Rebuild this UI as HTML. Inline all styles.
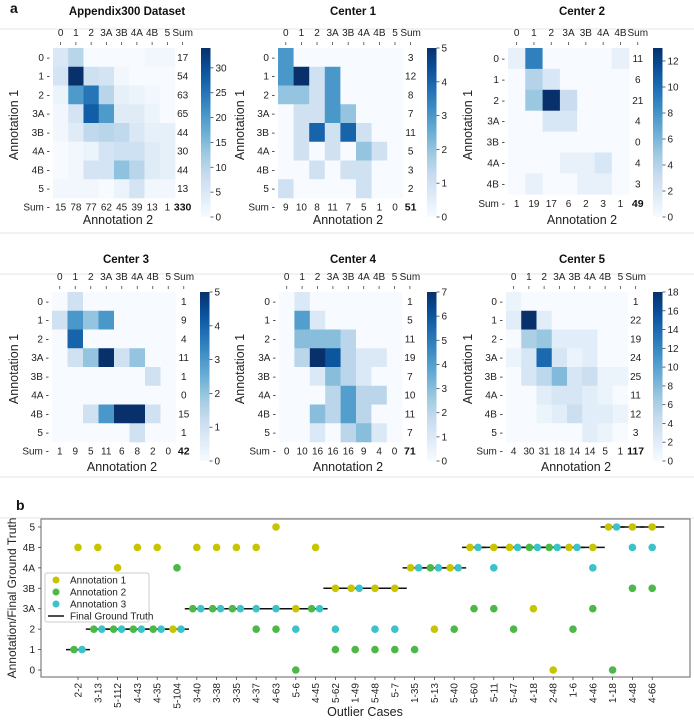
<!DOCTYPE html>
<html><head><meta charset="utf-8">
<style>
html,body{margin:0;padding:0;background:#fff;}
svg{display:block;font-family:"Liberation Sans","DejaVu Sans",sans-serif;}
</style></head>
<body>
<svg id="fig" width="694" height="720" viewBox="0 0 694 720" xmlns="http://www.w3.org/2000/svg">
<rect x="0" y="0" width="694" height="720" fill="#fff"/>
<line x1="0" y1="29" x2="694" y2="29" stroke="#e4e4e4"/>
<line x1="0" y1="233" x2="694" y2="233" stroke="#e4e4e4"/>
<line x1="0" y1="274" x2="694" y2="274" stroke="#e4e4e4"/>
<line x1="0" y1="477" x2="694" y2="477" stroke="#e4e4e4"/>
<line x1="0" y1="518" x2="694" y2="518" stroke="#e4e4e4"/>
<text x="10" y="13" font-size="14" font-weight="bold" fill="#111">a</text>
<text x="16" y="510" font-size="14" font-weight="bold" fill="#111">b</text>
</svg>
<script>
// ---------- Heatmap data ----------
const labels8 = ["0","1","2","3A","3B","4A","4B","5"];
const labels7 = ["0","1","2","3A","3B","4A","4B"];

const appendixMatrix = [
 [5,10,0,0,0,0,1,1],
 [6,34,7,6,1,0,0,0],
 [2,20,25,10,3,2,1,0],
 [1,6,28,20,4,4,2,0],
 [1,4,9,10,9,5,3,3],
 [0,1,2,6,7,7,4,3],
 [0,1,6,6,14,10,4,3],
 [1,1,1,0,2,6,1,1]];
const appendixRowSums = [17,54,63,65,44,30,44,13];
const appendixColSums = [15,78,77,62,45,39,13,1];
const appendixTotal = 330;

const center1Matrix = [
 [3,0,0,0,0,0,0,0],
 [3,5,1,3,0,0,0,0],
 [2,2,1,3,0,0,0,0],
 [0,1,1,3,2,0,0,0],
 [0,1,4,1,4,1,0,0],
 [0,1,0,1,0,2,1,0],
 [0,0,1,0,1,1,0,0],
 [1,0,0,0,0,1,0,0]];
const center1RowSums = [3,12,8,7,11,5,3,2];
const center1ColSums = [9,10,8,11,7,5,1,0];
const center1Total = 51;

const center2Matrix = [
 [1,9,0,0,0,0,1],
 [0,4,2,0,0,0,0],
 [0,5,13,3,0,0,0],
 [0,0,2,2,0,0,0],
 [0,0,0,0,0,0,0],
 [0,0,0,1,1,2,0],
 [0,1,0,0,1,1,0]];
const center2RowSums = [11,6,21,4,0,4,3];
const center2ColSums = [1,19,17,6,2,3,1];
const center2Total = 49;

const center3Matrix = [
 [0,1,0,0,0,0,0,0],
 [1,3,2,3,0,0,0,0],
 [0,4,0,0,0,0,0,0],
 [0,1,2,5,1,2,0,0],
 [0,0,0,0,0,0,1,0],
 [0,0,0,0,0,0,0,0],
 [0,0,1,3,5,5,1,0],
 [0,0,0,0,0,1,0,0]];
const center3RowSums = [1,9,4,11,1,0,15,1];
const center3ColSums = [1,9,5,11,6,8,2,0];
const center3Total = 42;

const center4Matrix = [
 [0,1,0,0,0,0,0,0],
 [0,4,1,0,0,0,0,0],
 [0,3,3,3,2,0,0,0],
 [0,2,7,6,2,1,1,0],
 [0,0,1,3,2,1,0,0],
 [0,0,0,2,4,2,2,0],
 [0,0,3,2,4,2,0,0],
 [0,0,1,0,2,3,1,0]];
const center4RowSums = [1,5,11,19,7,10,11,7];
const center4ColSums = [0,10,16,16,16,9,4,0];
const center4Total = 71;

const center5Matrix = [
 [1,0,0,0,0,0,0,0],
 [2,18,2,0,0,0,0,0],
 [0,6,7,2,2,2,0,0],
 [1,3,14,3,1,2,0,0],
 [0,3,5,8,3,4,1,1],
 [0,0,2,3,3,2,1,0],
 [0,0,1,2,4,2,2,1],
 [0,0,0,0,0,2,1,0]];
const center5RowSums = [1,22,19,24,25,11,12,3];
const center5ColSums = [4,30,31,18,14,14,5,1];
const center5Total = 117;

const cbTicksAppendix = [0,5,10,15,20,25,30];
const cbTicksC1 = [0,1,2,3,4,5];
const cbTicksC2 = [0,2,4,6,8,10,12];
const cbTicksC3 = [0,1,2,3,4,5];
const cbTicksC4 = [0,1,2,3,4,5,6,7];
const cbTicksC5 = [0,2,4,6,8,10,12,14,16,18];

// ---------- Scatter data ----------
const caseLabels = ["2-2","3-13","5-112","4-43","4-35","5-104","3-40","3-38","3-35","4-37","4-63","5-6","4-45","5-62","1-49","5-48","5-7","1-35","5-13","5-40","5-60","5-11","5-47","4-18","2-48","1-6","4-46","1-18","4-48","4-66"];
const levelLabels = ["0","1","2","3A","3B","4A","4B","5"];
// values are indices into levelLabels
const annotation1 = [6,6,5,6,6,2,6,6,6,6,7,3,6,4,4,4,4,5,2,5,6,6,6,3,0,6,6,7,7,7];
const annotation2 = [1,2,2,2,2,5,3,3,3,2,2,0,3,1,1,1,1,1,5,2,3,3,2,6,6,2,3,0,4,4];
const annotation3 = [1,2,2,2,2,2,3,3,3,3,3,2,3,2,4,2,2,5,5,5,6,5,6,6,6,6,5,7,6,6];
const groundTruth = [1,2,2,2,2,2,3,3,3,3,3,3,3,4,4,4,4,5,5,5,6,6,6,6,6,6,6,7,7,7];

const NS = "http://www.w3.org/2000/svg";
const svg = document.getElementById("fig");
function mk(tag, attrs, parent){
  const e = document.createElementNS(NS, tag);
  for (const k in attrs) e.setAttribute(k, attrs[k]);
  (parent||svg).appendChild(e);
  return e;
}
function txt(s, attrs, parent){ const e = mk("text", attrs, parent); e.textContent = s; return e; }

const blues = ["#f7fbff","#deebf7","#c6dbef","#9ecae1","#6baed6","#4292c6","#2171b5","#08519c","#08306b"];
function hex2rgb(h){return [1,3,5].map(i=>parseInt(h.substr(i,2),16));}
function bluesColor(t){
  t = Math.max(0, Math.min(1, t));
  const p = t*(blues.length-1), i = Math.min(Math.floor(p), blues.length-2), f = p-i;
  const a = hex2rgb(blues[i]), b = hex2rgb(blues[i+1]);
  return "rgb("+a.map((v,k)=>Math.round(v+(b[k]-v)*f)).join(",")+")";
}

function heatmap(cfg){
  const g = mk("g", {});
  
  
  const n = cfg.matrix.length, m = cfg.matrix[0].length;
  const cw = cfg.cw, rh = cfg.rh, x0 = cfg.x0, y0 = cfg.y0;
  const xC = j => x0 + (j+0.5)*cw;
  const yC = i => y0 + (i+0.5)*rh;
  const t = txt(cfg.title, {x:cfg.titleX, y:cfg.titleY, "font-size":"11.5", "font-weight":"bold", "text-anchor":"middle", fill:"#111"}, g);
  
  
  for (let i=0;i<n;i++) for (let j=0;j<m;j++){
    const r = mk("rect", {x:x0+j*cw, y:y0+i*rh, width:cw+0.3, height:rh+0.3, fill:bluesColor(cfg.matrix[i][j]/cfg.max)}, g);
    
    
  }
  const colLabs = cfg.labels.concat(["Sum"]);
  for (let j=0;j<colLabs.length;j++){
    const x = xC(j);
    const c = txt(colLabs[j], {x:x, y:y0-12, "font-size":"10", "text-anchor":"middle", fill:"#222"}, g);
    
    
    mk("line", {x1:x, x2:x, y1:y0-6, y2:y0-3, stroke:"#444", "stroke-width":"0.8"}, g);
  }
  for (let i=0;i<n;i++){
    const r = txt(cfg.labels[i]+" -", {x:x0-3, y:yC(i)+3.5, "font-size":"10", "text-anchor":"end", fill:"#222"}, g);
    
    
    const s = txt(String(cfg.rowSums[i]), {x:xC(m), y:yC(i)+3.5, "font-size":"10", "text-anchor":"middle", fill:"#222"}, g);
    
    
  }
  const sy = y0 + n*rh + 12.5;
  const sl = txt("Sum -", {x:x0-3, y:sy, "font-size":"10", "text-anchor":"end", fill:"#222"}, g);
  
  
  for (let j=0;j<m;j++){
    const s = txt(String(cfg.colSums[j]), {x:xC(j), y:sy, "font-size":"10", "text-anchor":"middle", fill:"#222"}, g);
    
    
  }
  const tot = txt(String(cfg.total), {x:xC(m), y:sy, "font-size":"10.5", "font-weight":"bold", "text-anchor":"middle", fill:"#111"}, g);
  
  
  const a2 = txt("Annotation 2", {x:cfg.ax2X, y:cfg.ax2Y, "font-size":"12.5", "text-anchor":"middle", fill:"#222"}, g);
  
  
  const a1 = txt("Annotation 1", {x:0, y:0, "font-size":"12.5", "text-anchor":"middle", fill:"#222", transform:"translate("+(cfg.ax1X)+","+(cfg.y0+77)+") rotate(-90)"}, g);
  
  
  const cbTop = y0, cbBot = y0+169, cbx = cfg.cbx, cbw = 9.5;
  const defsId = "grad_"+cfg.name;
  const defs = mk("defs", {}, g);
  const lg = mk("linearGradient", {id:defsId, x1:"0", y1:"1", x2:"0", y2:"0"}, defs);
  for (let k=0;k<=20;k++) mk("stop", {offset:(k/20), "stop-color":bluesColor(k/20)}, lg);
  const cb = mk("rect", {x:cbx, y:cbTop, width:cbw, height:cbBot-cbTop, fill:"url(#"+defsId+")"}, g);
  
  
  const cbY = v => cbBot - v/cfg.max*(cbBot-cbTop);
  cfg.ticks.forEach(v=>{
    const y = cbY(v);
    mk("line", {x1:cbx+cbw, x2:cbx+cbw+3, y1:y, y2:y, stroke:"#444", "stroke-width":"0.8"}, g);
    const tl = txt(String(v), {x:cbx+cbw+5, y:y+3.5, "font-size":"10", fill:"#222"}, g);
    
    
  });
}

heatmap({name:"heatmap-appendix300", title:"Appendix300 Dataset", titleX:127, titleY:15, matrix:appendixMatrix, rowSums:appendixRowSums, colSums:appendixColSums, total:appendixTotal, labels:labels8, x0:53, y0:48, cw:15.25, rh:18.75, max:34, ticks:cbTicksAppendix, cbx:201, ax2X:118, ax2Y:224, ax1X:18});
heatmap({name:"heatmap-center-1", title:"Center 1", titleX:353, titleY:15, matrix:center1Matrix, rowSums:center1RowSums, colSums:center1ColSums, total:center1Total, labels:labels8, x0:278, y0:48, cw:15.6, rh:18.75, max:5, ticks:cbTicksC1, cbx:427, ax2X:348, ax2Y:224, ax1X:244});
heatmap({name:"heatmap-center-2", title:"Center 2", titleX:582, titleY:15, matrix:center2Matrix, rowSums:center2RowSums, colSums:center2ColSums, total:center2Total, labels:labels7, x0:508, y0:48, cw:17.3, rh:20.9, max:13, ticks:cbTicksC2, cbx:653, ax2X:582, ax2Y:224, ax1X:472});
heatmap({name:"heatmap-center-3", title:"Center 3", titleX:126, titleY:263, matrix:center3Matrix, rowSums:center3RowSums, colSums:center3ColSums, total:center3Total, labels:labels8, x0:52, y0:292, cw:15.5, rh:18.75, max:5, ticks:cbTicksC3, cbx:200, ax2X:122, ax2Y:471, ax1X:18});
heatmap({name:"heatmap-center-4", title:"Center 4", titleX:353, titleY:263, matrix:center4Matrix, rowSums:center4RowSums, colSums:center4ColSums, total:center4Total, labels:labels8, x0:279, y0:292, cw:15.4, rh:18.75, max:7, ticks:cbTicksC4, cbx:427, ax2X:348, ax2Y:471, ax1X:244});
heatmap({name:"heatmap-center-5", title:"Center 5", titleX:582, titleY:263, matrix:center5Matrix, rowSums:center5RowSums, colSums:center5ColSums, total:center5Total, labels:labels8, x0:506, y0:292, cw:15.25, rh:18.75, max:18, ticks:cbTicksC5, cbx:653, ax2X:576, ax2Y:471, ax1X:472});

// ---------- Scatter chart ----------
(function(){
  const L=41, R=690, T=519, B=677;
  const xS = i => 78 + i*19.8;
  const yS = v => 670 - v*20.43;
  const g = mk("g", {});
  
  
  const frame = mk("rect", {x:L, y:T, width:R-L, height:B-T, fill:"none", stroke:"#666", "stroke-width":"1"}, g);
  
  
  levelLabels.forEach((lab,v)=>{
    const y = yS(v);
    mk("line", {x1:L-3, x2:L, y1:y, y2:y, stroke:"#444", "stroke-width":"0.8"}, g);
    const t = txt(lab, {x:L-6, y:y+3.5, "font-size":"10", "text-anchor":"end", fill:"#222"}, g);
    
    
  });
  caseLabels.forEach((lab,i)=>{
    const x = xS(i);
    mk("line", {x1:x, x2:x, y1:B, y2:B+3, stroke:"#444", "stroke-width":"0.8"}, g);
    const t = txt(lab, {x:0, y:0, "font-size":"10", "text-anchor":"end", fill:"#222", transform:"translate("+(x+3.5)+","+(B+6)+") rotate(-90)"}, g);
    
    
  });
  const xt = txt("Outlier Cases", {x:365, y:716, "font-size":"12.5", "text-anchor":"middle", fill:"#222"}, g);
  
  
  const yt = txt("Annotation/Final Ground Truth", {x:0, y:0, "font-size":"12", "text-anchor":"middle", fill:"#222", transform:"translate(16,598) rotate(-90)"}, g);
  
  

  groundTruth.forEach((v,i)=>{
    const x = xS(i), y = yS(v);
    const l = mk("line", {x1:x-12, x2:x+12, y1:y, y2:y, stroke:"#111", "stroke-width":"1.5"}, g);
    
    
  });
  const series = [annotation1, annotation2, annotation3];
  const colors = ["#c9c400","#4cb847","#3cc3c9"];
  const names = ["annotation-1-point","annotation-2-point","annotation-3-point"];
  caseLabels.forEach((lab,i)=>{
    const vals = series.map(s=>s[i]);
    const offs = [0,0,0];
    vals.forEach((v,k)=>{
      const grp = [];
      vals.forEach((w,kk)=>{ if (w===v) grp.push(kk); });
      if (grp.length===2) offs[k] = grp.indexOf(k)===0 ? -4 : 4;
      else if (grp.length===3) offs[k] = (grp.indexOf(k)-1)*6;
    });
    vals.forEach((v,k)=>{
      const c = mk("circle", {cx:xS(i)+offs[k], cy:yS(v), r:3.8, fill:colors[k]}, g);
      
      
    });
  });
  const lg = mk("g", {}, g);
  
  
  mk("rect", {x:45, y:573, width:104, height:49, fill:"#fff", "fill-opacity":"0.85", stroke:"#ccc", rx:"2"}, lg);
  const legendNames = ["Annotation 1","Annotation 2","Annotation 3","Final Ground Truth"];
  legendNames.forEach((nm,k)=>{
    const y = 580 + k*12;
    if (k<3){
      mk("circle", {cx:56, cy:y, r:3.5, fill:colors[k]}, lg);
    } else {
      mk("line", {x1:48, x2:64, y1:y, y2:y, stroke:"#111", "stroke-width":"1.5"}, lg);
    }
    const t = txt(nm, {x:70, y:y+3.5, "font-size":"10", fill:"#222"}, lg);
    
    
  });
})();
</script>
</body></html>
